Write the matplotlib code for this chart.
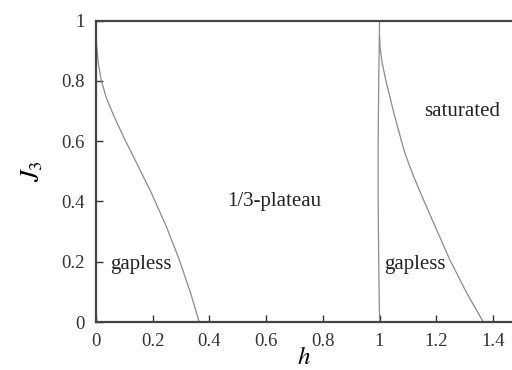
import matplotlib.pyplot as plt

plt.rcParams['font.family'] = ['Liberation Serif', 'DejaVu Serif']
plt.rcParams['mathtext.fontset'] = 'stix'

# left boundary (gapless / 1/3-plateau)
J_left = [0.95, 0.92, 0.86, 0.804, 0.745, 0.688, 0.605, 0.53, 0.48, 0.427, 0.317, 0.206, 0.095, 0.0]
h_left = [0.0, 0.002, 0.008, 0.018, 0.036, 0.061, 0.102, 0.142, 0.168, 0.196, 0.248, 0.294, 0.334, 0.364]

# near-vertical boundary at h = 1
J_mid = [0.0, 0.2, 0.4, 0.6, 0.8, 1.0]
h_mid = [1.0, 0.997, 0.995, 0.995, 0.997, 1.0]

# right boundary (gapless / saturated)
J_right = [0.95, 0.91, 0.86, 0.798, 0.688, 0.577, 0.538, 0.488, 0.427, 0.317, 0.206, 0.095, 0.0]
h_right = [1.0, 1.002, 1.009, 1.023, 1.052, 1.084, 1.098, 1.118, 1.145, 1.196, 1.248, 1.308, 1.366]

labels = ['gapless', '1/3-plateau', 'gapless', 'saturated']
label_h = [0.16, 0.63, 1.125, 1.29]
label_J = [0.19, 0.40, 0.19, 0.70]

fig = plt.figure(figsize=(5.12, 3.7), dpi=100)
ax = fig.add_axes([0.1875, 0.1297, 0.8125, 0.8144])

line_col = '#8a8a8a'
ax.plot(h_left, J_left, color=line_col, lw=0.9)
ax.plot(h_mid, J_mid, color=line_col, lw=0.9)
ax.plot(h_right, J_right, color=line_col, lw=0.9)

for t, x, y in zip(labels, label_h, label_J):
    ax.text(x, y, t, ha='center', va='center', fontsize=15, color='#222222')

ax.set_xlim(0, 1.467)
ax.set_ylim(0, 1)
ax.set_xticks([0, 0.2, 0.4, 0.6, 0.8, 1.0, 1.2, 1.4])
ax.set_xticklabels(['0', '0.2', '0.4', '0.6', '0.8', '1', '1.2', '1.4'])
ax.set_yticks([0, 0.2, 0.4, 0.6, 0.8, 1.0])
ax.set_yticklabels(['0', '0.2', '0.4', '0.6', '0.8', '1'])
ax.tick_params(direction='in', length=5, width=1, labelsize=13.5,
               colors='#333333', pad=8, top=False, right=False)

for s in ['left', 'bottom', 'top']:
    ax.spines[s].set_linewidth(1.6)
    ax.spines[s].set_color('#444444')
ax.spines['right'].set_visible(False)

ax.set_xlabel('$h$', fontsize=18, labelpad=-2)
ax.set_ylabel('$J_3$', fontsize=19, labelpad=12)

fig.savefig('out.png', dpi=100)
